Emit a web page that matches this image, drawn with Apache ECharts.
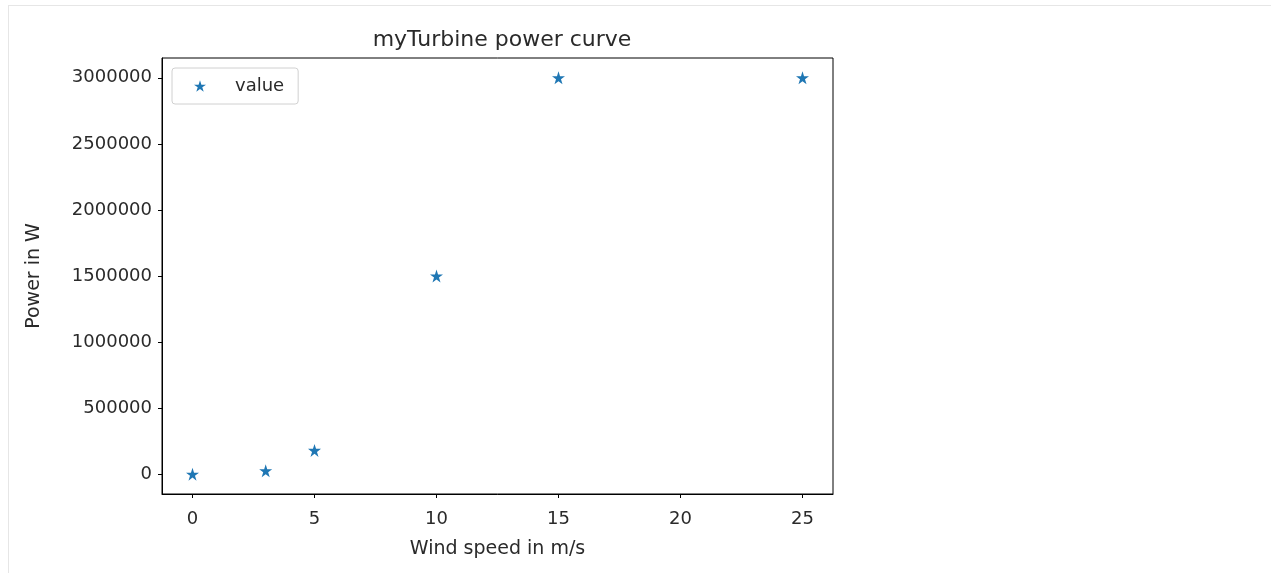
<!DOCTYPE html>
<html>
<head>
<meta charset="utf-8">
<script src="https://cdn.jsdelivr.net/npm/echarts@6/dist/echarts.min.js"></script>
<style>
  html, body { margin: 0; padding: 0; background: #fff; }
  #frame { position: absolute; left: 8px; top: 5px; width: 1263px; height: 568px;
           border-top: 1px solid #e6e6e6; border-left: 1px solid #e6e6e6; }
  #main { position: absolute; left: 0; top: 0; width: 1271px; height: 573px; }
</style>
</head>
<body>
<div id="frame"></div>
<div id="main"></div>
<script>
// wind speed (m/s) and power (W) of the turbine power curve
var windSpeed = [0, 3, 5, 10, 15, 25];
var powerW = [0, 26000, 180000, 1500000, 3000000, 3000000];
var xTicks = [0, 5, 10, 15, 20, 25];
var yTicks = [0, 500000, 1000000, 1500000, 2000000, 2500000, 3000000];

var points = windSpeed.map(function (w, i) { return [w, powerW[i]]; });

var star = 'path://M0,-1 L0.2245,-0.309 L0.951,-0.309 L0.363,0.118 L0.588,0.809 L0,0.382 L-0.588,0.809 L-0.363,0.118 L-0.951,-0.309 L-0.2245,-0.309 Z';
var chart = echarts.init(document.getElementById('main'));
var font = 'DejaVu Sans';
chart.setOption({
  animation: false,
  title: {
    text: 'myTurbine power curve',
    left: 497, top: 24, textAlign: 'center',
    textStyle: { fontFamily: font, fontSize: 22, fontWeight: 'normal', color: '#2a2a2a' }
  },
  legend: {
    left: 172, top: 68,
    data: ['value'],
    icon: star,
    itemWidth: 12, itemHeight: 12,
    padding: [9, 14, 9, 22],
    borderColor: '#d0d0d0', borderWidth: 1, borderRadius: 3,
    textStyle: { fontFamily: font, fontSize: 18, color: '#2a2a2a', padding: [0, 0, 0, 24] }
  },
  grid: {
    left: 162, right: 438, top: 58, bottom: 79,
    show: true, borderColor: '#000', borderWidth: 1
  },
  xAxis: {
    type: 'value',
    min: -1.25, max: 26.25,
    name: 'Wind speed in m/s',
    nameLocation: 'middle', nameGap: 46,
    nameTextStyle: { fontFamily: font, fontSize: 19, color: '#2a2a2a' },
    axisLine: { show: true, onZero: false, lineStyle: { color: '#000' } },
    axisTick: { show: true, length: 4, customValues: xTicks, lineStyle: { color: '#000' } },
    axisLabel: {
      customValues: xTicks, fontFamily: font, fontSize: 18, color: '#2a2a2a', margin: 16,
      formatter: function (v) { return String(v); }
    },
    splitLine: { show: false }
  },
  yAxis: {
    type: 'value',
    min: -150000, max: 3150000,
    name: 'Power in W',
    nameLocation: 'middle', nameGap: 118,
    nameTextStyle: { fontFamily: font, fontSize: 19, color: '#2a2a2a' },
    axisLine: { show: true, onZero: false, lineStyle: { color: '#000' } },
    axisTick: { show: true, length: 4, customValues: yTicks, lineStyle: { color: '#000' } },
    axisLabel: {
      customValues: yTicks, fontFamily: font, fontSize: 18, color: '#2a2a2a', margin: 10,
      formatter: function (v) { return String(v); }
    },
    splitLine: { show: false }
  },
  series: [{
    name: 'value',
    type: 'scatter',
    symbol: star,
    symbolSize: 13,
    itemStyle: { color: '#1f77b4', opacity: 1 },
    data: points
  }]
});
</script>
</body>
</html>
